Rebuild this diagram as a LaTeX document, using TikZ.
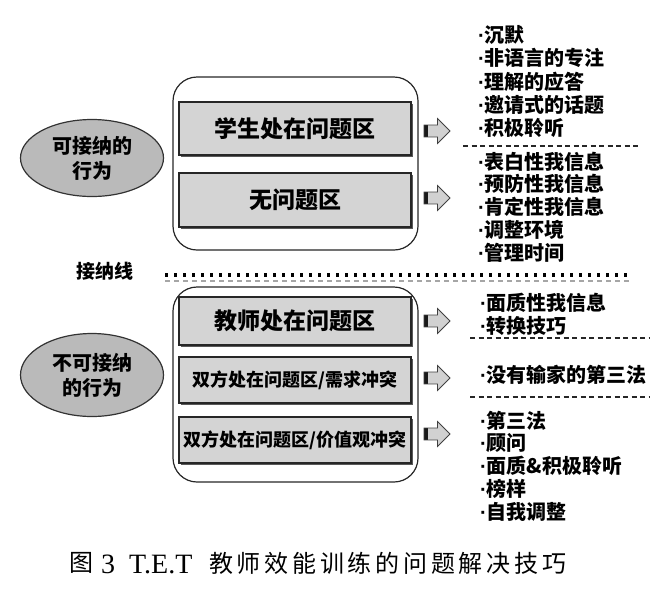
\documentclass[tikz,border=0pt]{standalone}
\usepackage{fontspec}
\setmainfont{Liberation Serif}
\newfontfamily\cjk{Noto Sans CJK SC}
\newfontfamily\cjkcap[LetterSpace=15.6]{Noto Sans CJK SC}
\newfontfamily\lat{Liberation Sans}
\usetikzlibrary{shapes.geometric,shapes.arrows,shadows}
\newcommand{\bul}{{\lat\bfseries ·}}
\begin{document}
\begin{tikzpicture}[x=1pt,y=-1pt,
  grp/.style={draw=black!85, line width=1.2pt, rounded corners=24pt, minimum width=245pt, inner sep=0pt},
  zone/.style={draw=black!85, line width=1.1pt, fill=black!17, minimum width=232pt, inner sep=0pt,
    font=\cjk\bfseries\fontsize{23}{26}\selectfont,
    drop shadow={shadow xshift=1.6pt, shadow yshift=-1.6pt, fill=black!65, opacity=1}},
  zonesm/.style={zone, font=\cjk\bfseries\fontsize{18}{20}\selectfont},
  oval/.style={ellipse, draw=black!80, line width=1.2pt, fill=black!27, minimum width=143pt, inner sep=0pt,
    align=center, font=\cjk\bfseries\fontsize{20}{25}\selectfont},
  blk/.style={single arrow, draw=black!75, line width=0.8pt, fill=black!18, minimum height=26pt,
    minimum width=25pt, inner xsep=0pt, inner ysep=5.5pt, single arrow head extend=6.5pt,
    path picture={\fill[black!90] (path picture bounding box.south west) rectangle ([xshift=4pt]path picture bounding box.north west);}},
  item/.style={anchor=west, inner sep=0pt, font=\cjk\bfseries\fontsize{20}{22}\selectfont},
  sep/.style={draw=black!85, line width=1.1pt, dash pattern=on 5pt off 3.5pt},
  captxt/.style={anchor=west, inner sep=0pt},
]
\useasboundingbox (0,0) rectangle (666,590);

% groups
\node[grp, minimum height=173pt] (g1) at (295.5,163.5) {};
\node[grp, minimum height=195pt] (g2) at (295.5,384.5) {};

% zones
\node[zone, minimum height=53pt] (z1) at (295,128.5) {学生处在问题区};
\node[zone, minimum height=54pt] (z2) at (295,200) {无问题区};
\node[zone, minimum height=48pt] (z3) at (295,321) {教师处在问题区};
\node[zonesm, minimum height=46pt] (z4) at (295,380) {双方处在问题区/需求冲突};
\node[zonesm, minimum height=46pt] (z5) at (295,440) {双方处在问题区/价值观冲突};

% ovals
\node[oval, minimum height=77pt] (o1) at (92,158) {可接纳的\\行为};
\node[oval, minimum height=83pt] (o2) at (92,375) {不可接纳\\的行为};

% arrows
\node[blk] (a1) at (434,131) {};
\node[blk] (a2) at (434,198) {};
\node[blk] (a3) at (434,321) {};
\node[blk] (a4) at (434,378) {};
\node[blk] (a5) at (434,434) {};

% acceptance line
\node[font=\cjk\bfseries\fontsize{19}{20}\selectfont, inner sep=0pt] (acc) at (105,271) {接纳线};
\coordinate (l1) at (165,275);
\coordinate (l2) at (630,275);
\coordinate (m1) at (165,281);
\coordinate (m2) at (630,281);
\draw[line width=3.2pt, dash pattern=on 3.2pt off 5.8pt] (l1) -- (l2);
\draw[black!35, line width=1.2pt, dash pattern=on 5pt off 4pt] (m1) -- (m2);

% lists
\node[item] (t1) at (478,35) {\bul 沉默};
\node[item] (t2) at (478,58) {\bul 非语言的专注};
\node[item] (t3) at (478,82) {\bul 理解的应答};
\node[item] (t4) at (478,105) {\bul 邀请式的话题};
\node[item] (t5) at (478,128) {\bul 积极聆听};
\coordinate (d1a) at (463,146); \coordinate (d1b) at (641,146);
\draw[sep] (d1a) -- (d1b);
\node[item] (t6) at (478,162) {\bul 表白性我信息};
\node[item] (t7) at (478,184) {\bul 预防性我信息};
\node[item] (t8) at (478,207) {\bul 肯定性我信息};
\node[item] (t9) at (478,230) {\bul 调整环境};
\node[item] (t10) at (478,253) {\bul 管理时间};

\node[item] (u1) at (480,303) {\bul 面质性我信息};
\node[item] (u2) at (480,326) {\bul 转换技巧};
\coordinate (d2a) at (470,338); \coordinate (d2b) at (650,338);
\draw[sep] (d2a) -- (d2b);
\node[item] (u3) at (480,375) {\bul 没有输家的第三法};
\coordinate (d3a) at (470,397); \coordinate (d3b) at (650,397);
\draw[sep] (d3a) -- (d3b);
\node[item] (u4) at (480,421) {\bul 第三法};
\node[item] (u5) at (480,443) {\bul 顾问};
\node[item] (u6) at (480,466) {\bul 面质\&积极聆听};
\node[item] (u7) at (480,489) {\bul 榜样};
\node[item] (u8) at (480,512) {\bul 自我调整};

% caption
\node[captxt, font=\cjk\fontsize{24}{26}\selectfont] (cap1) at (69,563) {图};
\node[captxt, font=\fontsize{28}{30}\selectfont] (cap2) at (101,564) {3\enspace T.E.T};
\node[captxt, font=\cjkcap\fontsize{24}{26}\selectfont] (cap3) at (209,563) {教师效能训练的问题解决技巧};
\end{tikzpicture}
\end{document}
